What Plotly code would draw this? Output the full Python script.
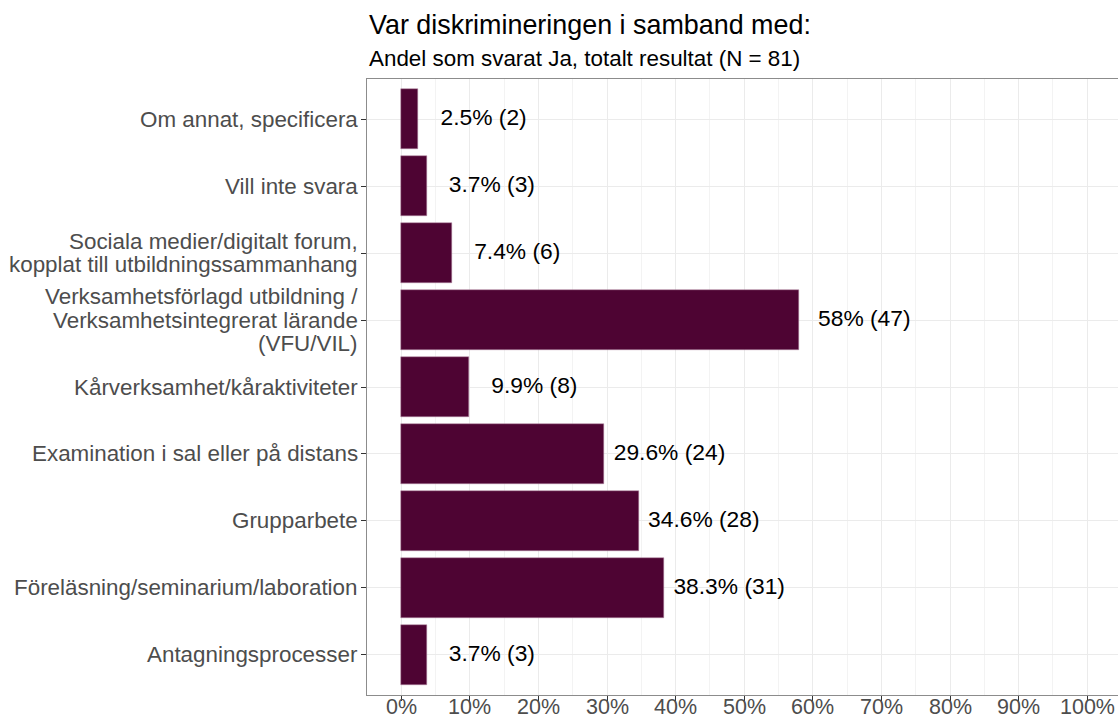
import plotly.graph_objects as go

# Data (bottom to top, as drawn)
categories = [
    "Antagningsprocesser",
    "Föreläsning/seminarium/laboration",
    "Grupparbete",
    "Examination i sal eller på distans",
    "Kårverksamhet/kåraktiviteter",
    "Verksamhetsförlagd utbildning /<br>Verksamhetsintegrerat lärande<br>(VFU/VIL)",
    "Sociala medier/digitalt forum,<br>kopplat till utbildningssammanhang",
    "Vill inte svara",
    "Om annat, specificera",
]
percent = [3.7, 38.3, 34.6, 29.6, 9.9, 58.0, 7.4, 3.7, 2.5]
counts = [3, 31, 28, 24, 8, 47, 6, 3, 2]
value_labels = ["3.7% (3)", "38.3% (31)", "34.6% (28)", "29.6% (24)", "9.9% (8)",
                "58% (47)", "7.4% (6)", "3.7% (3)", "2.5% (2)"]
x_tick_values = [0, 10, 20, 30, 40, 50, 60, 70, 80, 90, 100]
x_tick_labels = ["0%", "10%", "20%", "30%", "40%", "50%", "60%", "70%", "80%", "90%", "100%"]

title_text = "Var diskrimineringen i samband med:"
subtitle_text = "Andel som svarat Ja, totalt resultat (N = 81)"

FONT = "Liberation Sans, Arial, sans-serif"
BAR = "#4E0433"
TICK_GREY = "#4D4D4D"
label_offset = 9.5  # label centre offset from bar end (percent units)
line_step = 23.5    # px between lines of a multi-line category label

fig = go.Figure()
fig.add_trace(go.Bar(
    x=percent, y=categories, orientation="h", width=0.9,
    marker=dict(color=BAR, line=dict(color="#B58AA5", width=0.5)),
    hoverinfo="skip", showlegend=False,
))
fig.add_trace(go.Scatter(
    x=[p + label_offset for p in percent], y=categories, mode="text",
    text=value_labels, textposition="middle center",
    textfont=dict(family=FONT, size=22.8, color="#000000"),
    hoverinfo="skip", showlegend=False, cliponaxis=False,
))

fig.update_layout(
    width=1118, height=720, autosize=False,
    margin=dict(l=367, r=0, t=79, b=25, autoexpand=False),
    paper_bgcolor="white", plot_bgcolor="white",
    font=dict(family=FONT, size=22, color=TICK_GREY),
    bargap=0,
)
fig.update_xaxes(
    range=[-5, 104.48], tickmode="array", tickvals=x_tick_values,
    showticklabels=False,
    showgrid=True, gridcolor="#EBEBEB", gridwidth=1,
    minor=dict(tickmode="linear", tick0=5, dtick=10, showgrid=True,
               gridcolor="#F3F3F3", gridwidth=0.6),
    zeroline=False, showline=True, linecolor="#8C8C8C", linewidth=1, mirror=True,
    ticks="outside", ticklen=5, tickcolor="#333333", tickwidth=1,
    fixedrange=True,
)
fig.update_yaxes(
    type="category", categoryorder="array", categoryarray=categories,
    range=[-0.6, 8.6], showticklabels=False,
    showgrid=True, gridcolor="#EBEBEB", gridwidth=1,
    zeroline=False, showline=True, linecolor="#8C8C8C", linewidth=1, mirror=False,
    ticks="outside", ticklen=5, tickcolor="#333333", tickwidth=1,
    fixedrange=True,
)

# X tick labels (annotations, placed tight under the axis like ggplot)
for v, lab in zip(x_tick_values, x_tick_labels):
    fig.add_annotation(
        text=lab, xref="x", yref="paper", x=v, y=0,
        xanchor="center", yanchor="middle", yshift=-12, showarrow=False,
        borderpad=0, font=dict(family=FONT, size=21.5, color=TICK_GREY),
    )

# Category labels (drawn as annotations for tighter line spacing)
for cat in categories:
    lines = cat.split("<br>")
    n = len(lines)
    for j, line in enumerate(lines):
        fig.add_annotation(
            text=line, xref="paper", yref="y", x=0, y=cat,
            xanchor="right", yanchor="middle", xshift=-7,
            yshift=((n - 1) / 2 - j) * line_step, showarrow=False,
            font=dict(family=FONT, size=22.4, color=TICK_GREY),
        )

fig.add_annotation(text=title_text, xref="paper", yref="paper", x=0, y=1,
                   xanchor="left", yanchor="middle", yshift=54, showarrow=False,
                   font=dict(family=FONT, size=26.9, color="#000000"))
fig.add_annotation(text=subtitle_text, xref="paper", yref="paper", x=0, y=1,
                   xanchor="left", yanchor="middle", yshift=21, showarrow=False,
                   font=dict(family=FONT, size=22.4, color="#000000"))

fig.write_html("out.html", config={"displayModeBar": False},
               post_script="document.body.style.margin='0';")
